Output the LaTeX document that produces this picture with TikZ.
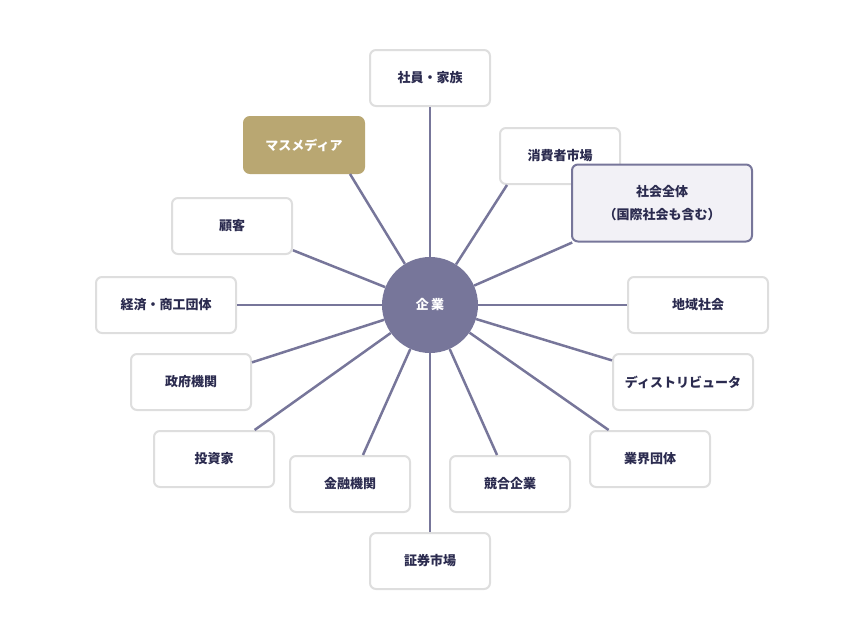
\documentclass[tikz,border=0pt]{standalone}
\usepackage{fontspec}
\setmainfont{Noto Sans CJK JP}
\usepackage{xcolor}
\usetikzlibrary{positioning}
\definecolor{linkc}{HTML}{77769A}
\definecolor{textc}{HTML}{2B2B4F}
\definecolor{framec}{HTML}{DEDEDE}
\definecolor{goldc}{HTML}{B9A772}
\definecolor{softc}{HTML}{F2F1F6}

\begin{document}
\begin{tikzpicture}[
  x=1pt, y=-1pt,
  party/.style={rectangle, draw=framec, line width=2pt, rounded corners=6pt, fill=white, text=textc, font=\fontsize{13pt}{16pt}\selectfont\bfseries, align=center, minimum width=120pt, minimum height=56pt},
  media/.style={party, draw=goldc, fill=goldc, text=white},
  society/.style={party, draw=linkc, fill=softc, minimum width=180pt, minimum height=77pt, font=\fontsize{13pt}{23pt}\selectfont\bfseries},
  core/.style={circle, fill=linkc, text=white, minimum size=96pt, font=\fontsize{13pt}{16pt}\selectfont\bfseries},
  link/.style={draw=linkc, line width=2.5pt}
]
\useasboundingbox (0,0) rectangle (860,640);
\node[core] (firm) at (430,305) {企\,業};
\node[party] (staff) at (430,78) {社員・家族};
\node[media] (mass) at (304,145) {マスメディア};
\node[party] (consumer) at (560,156) {消費者市場};
\node[society] (society) at (662,203) {社会全体\\（国際社会も含む）};
\node[party] (client) at (232,226) {顧客};
\node[party, minimum width=140pt] (chamber) at (166,305) {経済・商工団体};
\node[party, minimum width=140pt] (local) at (698,305) {地域社会};
\node[party] (gov) at (191,382) {政府機関};
\node[party, minimum width=140pt] (dist) at (683,382) {ディストリビュータ};
\node[party] (investor) at (214,459) {投資家};
\node[party] (industry) at (650,459) {業界団体};
\node[party] (bank) at (350,484) {金融機関};
\node[party] (rival) at (510,484) {競合企業};
\node[party] (stock) at (430,561) {証券市場};
\foreach \p in {staff,client,chamber,local,gov,dist,investor,industry,bank,rival,stock,society}
  \draw[link] (firm) -- (\p);
\draw[link] (firm) -- ([xshift=-15pt]mass.south east);
\draw[link] (firm) -- ([xshift=8pt]consumer.south west);
\end{tikzpicture}
\end{document}
